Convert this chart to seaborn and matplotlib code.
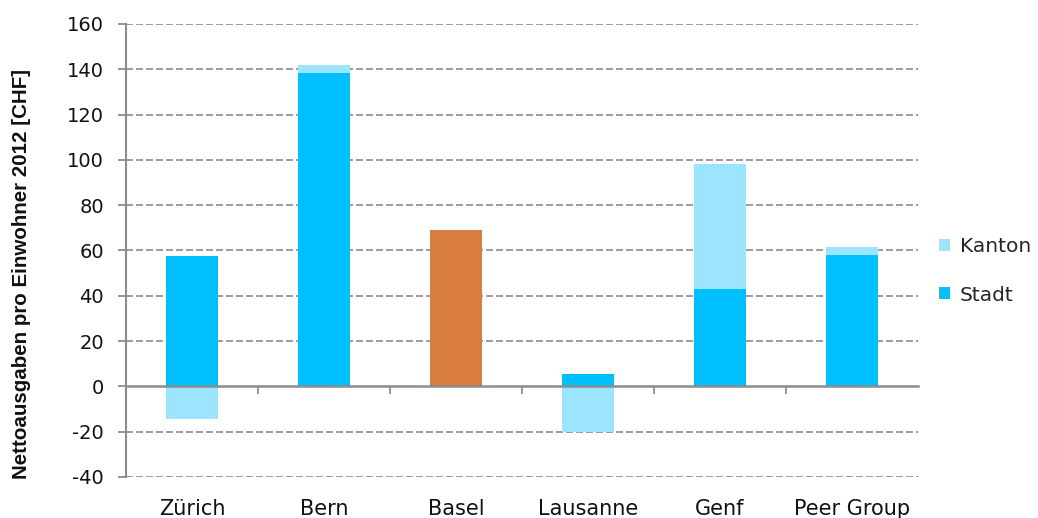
import matplotlib
matplotlib.use("Agg")
import matplotlib.pyplot as plt
from matplotlib.patches import Patch
import numpy as np
import pandas as pd
import seaborn as sns

# Net expenditure per inhabitant 2012 (CHF), split by funding level
cities = ["Zürich", "Bern", "Basel", "Lausanne", "Genf", "Peer Group"]
stadt = [57.5, 138.5, 69.0, 5.5, 43.0, 58.0]
kanton = [-14.5, 3.5, 0.0, -20.0, 55.0, 3.5]
y_ticks = [-40, -20, 0, 20, 40, 60, 80, 100, 120, 140, 160]

STADT_COLOR = "#00bfff"
KANTON_COLOR = "#9de4ff"
BASEL_COLOR = "#d97d3e"
GRID_COLOR = "#8c8c8c"
TEXT_COLOR = "#111111"

df = pd.DataFrame({"city": cities, "stadt": stadt, "kanton": kanton})
# Positive canton shares stack on top of the city share, negative ones hang below zero
df["kanton_end"] = np.where(df["kanton"] > 0, df["stadt"] + df["kanton"], df["kanton"])

sns.set_theme(style="white")
plt.rcParams["font.family"] = ["DejaVu Sans"]

fig = plt.figure(figsize=(10.38, 5.18), dpi=100)
ax = fig.add_axes([0.1214, 0.0792, 0.763, 0.8745])

sns.barplot(data=df, x="city", y="kanton_end", color=KANTON_COLOR, width=0.4,
            saturation=1, ax=ax, zorder=3, edgecolor="none")
stadt_colors = [BASEL_COLOR if c == "Basel" else STADT_COLOR for c in cities]
sns.barplot(data=df, x="city", y="stadt", hue="city", palette=stadt_colors,
            legend=False, width=0.4, saturation=1, ax=ax, zorder=4, edgecolor="none")

ax.set_ylim(-40, 160)
ax.set_xlim(-0.5, len(cities) - 0.5)
ax.set_yticks(y_ticks)
ax.set_yticklabels([str(v) for v in y_ticks], fontsize=14, color=TEXT_COLOR)

# dashed horizontal grid, no line at zero (the zero axis is drawn separately)
for v in y_ticks:
    if v != 0:
        ax.axhline(v, color=GRID_COLOR, lw=1.2, ls=(0, (4.2, 1.8)), zorder=1)

for side in ["top", "right", "bottom"]:
    ax.spines[side].set_visible(False)
ax.spines["left"].set_color(GRID_COLOR)
ax.spines["left"].set_linewidth(1.5)
ax.tick_params(axis="y", direction="out", length=6, width=1.3, color=GRID_COLOR, pad=10, left=True)
ax.tick_params(axis="x", length=0, pad=16)
ax.set_xticks(range(len(cities)))
ax.set_xticklabels(cities, fontsize=15, color=TEXT_COLOR)
ax.set_xlabel("")
ax.set_ylabel("Nettoausgaben pro Einwohner 2012 [CHF]", fontsize=14.8, fontweight="bold",
              family="Liberation Sans", color=TEXT_COLOR)
ax.yaxis.set_label_coords(-0.12, 0.448)

# zero axis with category separator ticks
zero_frac = (0 - (-40)) / (160 - (-40))
zax = ax.secondary_xaxis(zero_frac)
zax.set_xticks(np.arange(len(cities) - 1) + 0.5)
zax.set_xticklabels([])
zax.tick_params(direction="out", length=6, width=1.3, color=GRID_COLOR)
zax.spines["bottom"].set_color(GRID_COLOR)
zax.spines["bottom"].set_linewidth(1.8)
zax.set_zorder(5)

handles = [Patch(facecolor=KANTON_COLOR, edgecolor="none", label="Kanton"),
           Patch(facecolor=STADT_COLOR, edgecolor="none", label="Stadt")]
fig.legend(handles=handles, loc="center left", bbox_to_anchor=(0.905, 0.477),
           frameon=False, prop={"size": 14.5},
           handlelength=0.55, handleheight=0.55, handletextpad=0.45,
           labelspacing=1.45, borderaxespad=0, borderpad=0)

fig.savefig("out.png", dpi=100)
